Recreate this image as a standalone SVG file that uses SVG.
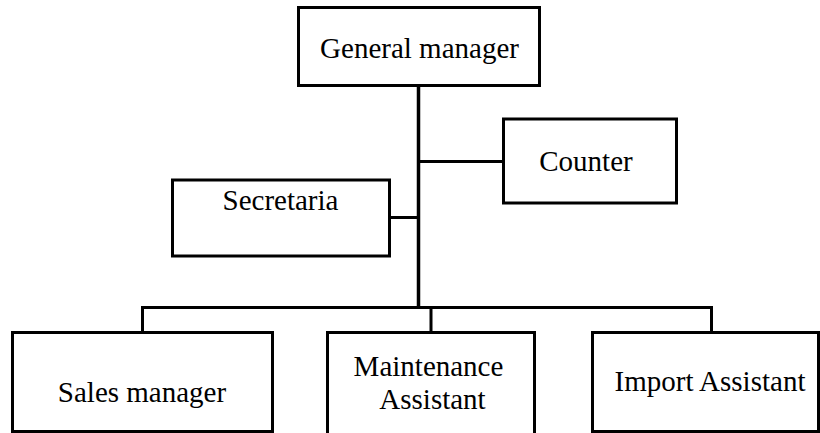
<svg xmlns="http://www.w3.org/2000/svg" width="820" height="433" viewBox="0 0 820 433">
<style>
.box{fill:#fff;stroke:#000;stroke-width:3}
.t{font-family:'Liberation Serif','Times New Roman',Times,serif;font-size:29px;fill:#000;text-anchor:middle}
.c{fill:none;stroke:#000;stroke-width:3}
.trunk{fill:none;stroke:#000;stroke-width:3.5}
</style>
<rect width="820" height="433" fill="#fff"/>
<g id="connectors">
<line class="trunk" x1="418.5" y1="86" x2="418.5" y2="308"/>
<line class="c" x1="418" y1="161.5" x2="503" y2="161.5"/>
<line class="c" x1="390" y1="217.5" x2="418" y2="217.5"/>
<polyline class="c" points="142.5,332 142.5,307.5 711.5,307.5 711.5,332"/>
<line class="c" x1="431" y1="307.5" x2="431" y2="332"/>
</g>
<g id="general-manager">
<rect class="box" x="298.5" y="7.5" width="241" height="78"/>
<text class="t" x="419.5" y="58">General manager</text>
</g>
<g id="counter">
<rect class="box" x="503.5" y="119" width="173" height="84"/>
<text class="t" x="586" y="171">Counter</text>
</g>
<g id="secretaria">
<rect class="box" x="172.5" y="180" width="217" height="76"/>
<text class="t" x="280.5" y="210">Secretaria</text>
</g>
<g id="sales-manager">
<rect class="box" x="12.5" y="332.5" width="260" height="99"/>
<text class="t" x="142" y="401.5">Sales manager</text>
</g>
<g id="maintenance-assistant">
<rect class="box" x="327.5" y="332.5" width="207" height="105"/>
<text class="t" x="428.5" y="376">Maintenance</text>
<text class="t" x="432.5" y="408.5">Assistant</text>
</g>
<g id="import-assistant">
<rect class="box" x="592.5" y="332.5" width="226" height="99"/>
<text class="t" x="710" y="391">Import Assistant</text>
</g>
</svg>
